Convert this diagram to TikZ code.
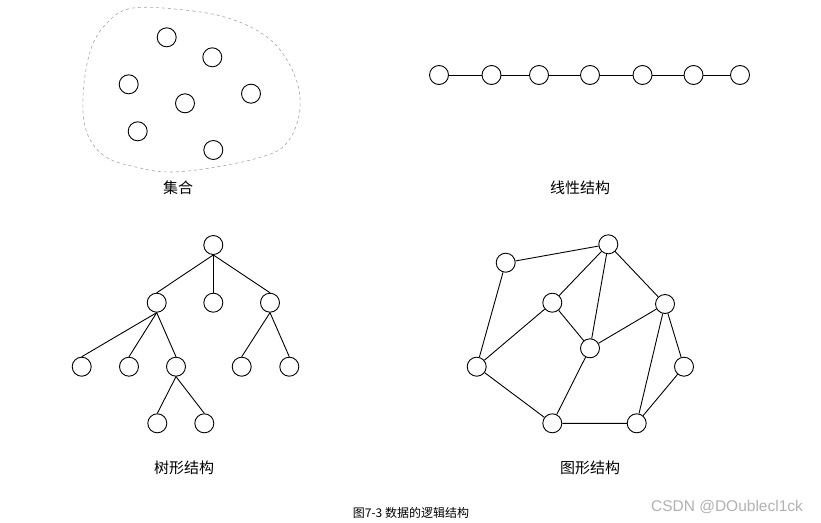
\documentclass[tikz,border=0pt]{standalone}
\usepackage{fontspec}
\newfontfamily\cjk{Noto Sans CJK SC}
\newfontfamily\wmfont{Liberation Sans}
\usetikzlibrary{positioning}

\begin{document}
\begin{tikzpicture}[x=1pt,y=-1pt,
  elem/.style={circle,draw,line width=0.9pt,minimum size=19pt,inner sep=0pt},
  lbl/.style={font=\cjk\fontsize{15}{17}\selectfont},
  every path/.style={line width=0.9pt}]
  \useasboundingbox[fill=white] (0,0) rectangle (821,522);
  % set
  \draw[gray!70,dashed,line width=0.6pt] plot[smooth cycle,tension=0.6] coordinates {(133,8)(193,11)(234,20)(267,37)(287,60)(299,90)(298,120)(284,146)(258,158)(210,168)(170,172)(140,168)(106,157)(87,133)(83,97)(90,52)(106,24)};
  \node[elem] (s1) at (166.7,37.3){}; \node[elem] (s2) at (212.3,57.3){};
  \node[elem] (s3) at (128.7,84.3){}; \node[elem] (s4) at (185,103.3){};
  \node[elem] (s5) at (251,93.7){};   \node[elem] (s6) at (137.7,131.3){};
  \node[elem] (s7) at (213.3,150){};
  \node[lbl] (setlbl) at (178,188){集合};
  % linear
  \foreach \i/\x in {1/439,2/491.5,3/539,4/590,5/642.5,6/693.5,7/740}
    \node[elem] (l\i) at (\x,75){};
  \foreach \i/\j in {1/2,2/3,3/4,4/5,5/6,6/7} \draw (l\i)--(l\j);
  \node[lbl] (linlbl) at (580,188){线性结构};
  % tree
  \node[elem] (t) at (213.3,245){};
  \node[elem] (ta) at (156.7,302.7){}; \node[elem] (tb) at (213.3,302.7){}; \node[elem] (tc) at (270,302.7){};
  \node[elem] (taa) at (81.7,366.7){}; \node[elem] (tab) at (129,366.7){}; \node[elem] (tac) at (176,366.7){};
  \node[elem] (tca) at (241.7,366.7){}; \node[elem] (tcb) at (289.3,366.7){};
  \node[elem] (taca) at (157.3,423.3){}; \node[elem] (tacb) at (204.3,423.3){};
  \foreach \p/\c in {t/ta,t/tb,t/tc,ta/taa,ta/tab,ta/tac,tc/tca,tc/tcb,tac/taca,tac/tacb}
    \draw (\p.south)--(\c.north);
  \node[lbl] (treelbl) at (184,468){树形结构};
  % graph
  \node[elem] (ga) at (505.7,262.7){}; \node[elem] (gb) at (608.3,244.3){};
  \node[elem] (gc) at (552.3,302.7){}; \node[elem] (gd) at (665,304){};
  \node[elem] (ge) at (590,348.3){};   \node[elem] (gf) at (476.7,366.7){};
  \node[elem] (gg) at (684,366.7){};   \node[elem] (gh) at (552.3,423.3){};
  \node[elem] (gi) at (636.7,423.3){};
  \draw (ga)--(gb) (ga)--(gf) (gb)--(gc) (gb)--(ge) (gb)--(gd) (gc)--(gf) (gc)--(ge)
        (ge)--(gd) (ge)--(gh) (gd)--(gi) (gd)--(gg) (gf)--(gh) (gh)--(gi) (gi)--(gg);
  \node[lbl] (graphlbl) at (590,468){图形结构};
  % caption
  \node[font=\cjk\fontsize{12}{14}\selectfont] (cap) at (411,513){图7-3 数据的逻辑结构};
  \node[font=\wmfont\fontsize{15.5}{18}\selectfont,text=gray!60] (wm) at (727,507){CSDN @DOublecl1ck};
\end{tikzpicture}
\end{document}
